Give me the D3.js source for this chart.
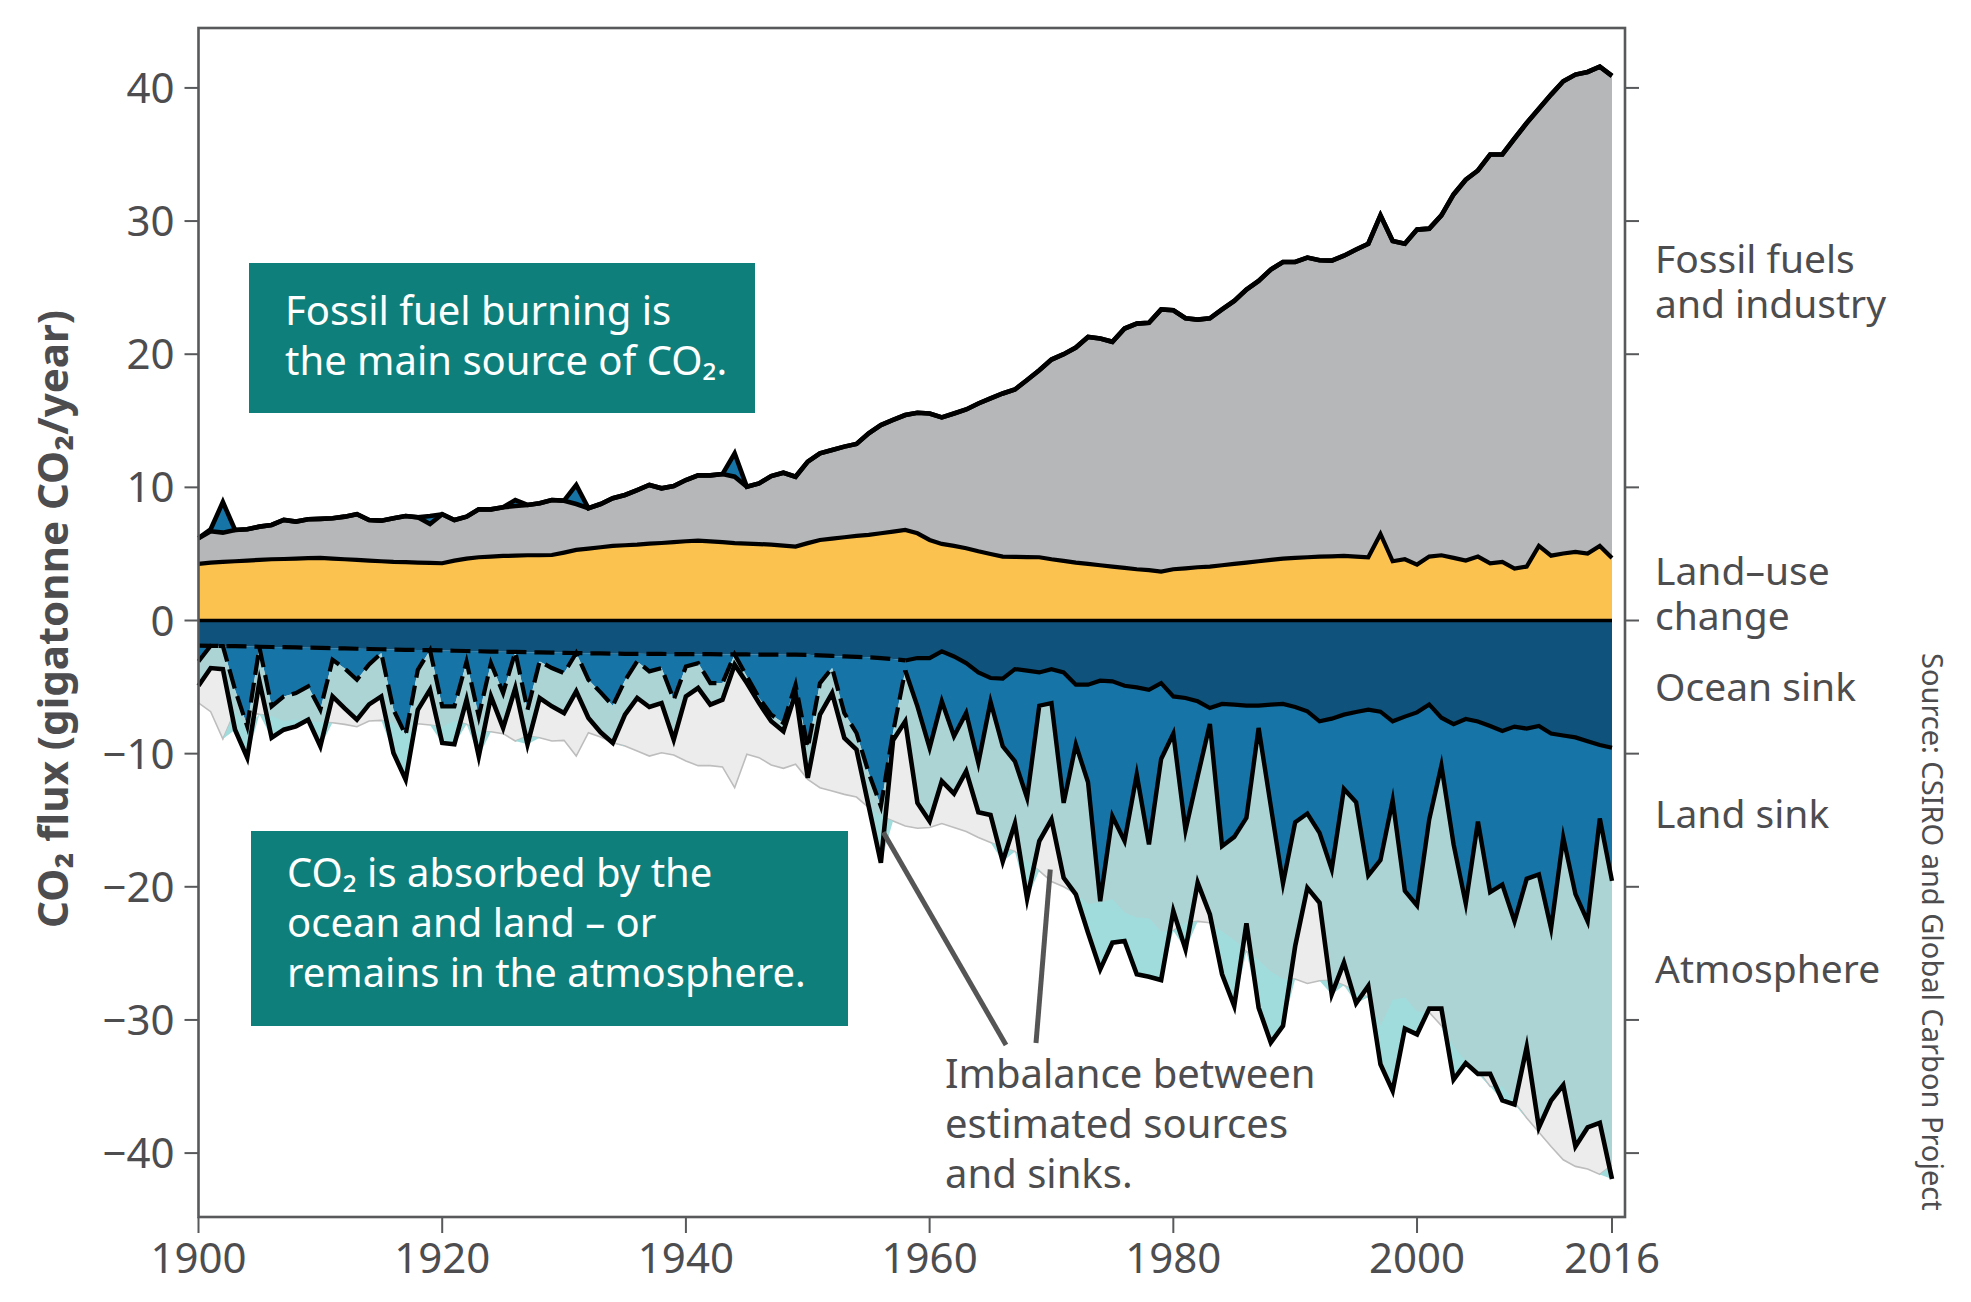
<!DOCTYPE html>
<html>
<head>
<meta charset="utf-8">
<script src="https://cdn.jsdelivr.net/npm/d3@7"></script>
<style>
  html, body { margin: 0; padding: 0; background: #fff; }
  text { font-family: "Noto Sans", "Open Sans", sans-serif; }
</style>
</head>
<body>
<svg id="chart" width="1971" height="1302"></svg>
<script>
// Global carbon budget 1900-2016, GtCO2 per year
const years = d3.range(1900, 2017);

const landUse = [
  4.25, 4.35, 4.4, 4.45, 4.5, 4.55, 4.6, 4.62, 4.65, 4.68,
  4.7, 4.65, 4.6, 4.55, 4.5, 4.45, 4.4, 4.38, 4.35, 4.33,
  4.3, 4.5, 4.65, 4.75, 4.8, 4.85, 4.87, 4.9, 4.9, 4.92,
  5.1, 5.3, 5.4, 5.5, 5.6, 5.65, 5.7, 5.78, 5.82, 5.88,
  5.95, 6.0, 5.95, 5.88, 5.81, 5.78, 5.74, 5.7, 5.62, 5.55,
  5.81, 6.05, 6.15, 6.25, 6.35, 6.43, 6.55, 6.68, 6.8, 6.55,
  6.05, 5.75, 5.6, 5.43, 5.2, 5.0, 4.8, 4.78, 4.76, 4.75,
  4.6, 4.48, 4.35, 4.25, 4.15, 4.05, 3.95, 3.85, 3.78, 3.68,
  3.85, 3.92, 4.0, 4.05, 4.15, 4.25, 4.35, 4.45, 4.55, 4.65,
  4.7, 4.75, 4.8, 4.82, 4.85, 4.8, 4.75, 6.5, 4.45, 4.6,
  4.2, 4.8, 4.9, 4.7, 4.5, 4.8, 4.3, 4.4, 3.9, 4.05,
  5.6, 4.87, 5.03, 5.15, 5.03, 5.6, 4.7
];

const fossil = [
  1.93, 2.35, 2.2, 2.35, 2.35, 2.5, 2.58, 2.93, 2.78, 2.92,
  2.93, 3.03, 3.2, 3.43, 3.05, 3.05, 3.28, 3.47, 3.4, 2.92,
  3.68, 3.05, 3.15, 3.6, 3.55, 3.65, 3.73, 3.78, 3.9, 4.13,
  3.9, 3.45, 3.03, 3.25, 3.58, 3.78, 4.1, 4.4, 4.11, 4.22,
  4.6, 4.9, 4.95, 5.12, 4.99, 4.27, 4.56, 5.15, 5.48, 5.25,
  6.12, 6.51, 6.66, 6.81, 6.91, 7.63, 8.13, 8.38, 8.63, 9.05,
  9.5, 9.5, 9.95, 10.42, 11.1, 11.68, 12.25, 12.57, 13.3, 14.05,
  15.0, 15.52, 16.15, 17.05, 17.03, 16.88, 17.98, 18.45, 18.58, 19.68,
  19.45, 18.78, 18.6, 18.65, 19.21, 19.75, 20.51, 21.05, 21.81, 22.28,
  22.23, 22.51, 22.26, 22.21, 22.55, 23.06, 23.55, 23.93, 24.05, 23.7,
  25.16, 24.63, 25.53, 27.3, 28.6, 29.0, 30.7, 30.6, 32.3, 33.31,
  32.83, 34.63, 35.47, 35.85, 36.17, 36.0, 36.2
];

// negative = sink, positive = the land acted as a source that year
const landSink = [
  -1.19, 0.15, 2.3, -3.27, -6.0, -0.05, -4.46, -3.7, -3.43, -2.91,
  -4.64, -0.87, -1.5, -2.33, -1.16, -0.29, -4.52, -6.4, -1.49, 0.6,
  -4.2, -4.18, -0.81, -4.89, -0.87, -3.1, 0.45, -4.32, -0.67, -1.16,
  -1.52, 1.43, -1.99, -2.93, -3.91, -2.0, -0.57, -1.31, -1.06, -3.43,
  -0.93, -0.67, -2.17, -2.16, 1.76, -1.65, -3.26, -4.51, -5.13, -2.25,
  -6.99, -2.08, -0.91, -4.25, -5.72, -8.69, -11.13, -5.5, -0.75, -3.63,
  -6.75, -3.75, -6.0, -3.75, -6.8, -1.78, -5.08, -6.92, -9.56, -2.5,
  -2.55, -9.8, -4.5, -7.33, -16.56, -10.13, -11.67, -6.55, -11.62, -5.7,
  -2.8, -9.93, -5.63, -1.2, -10.68, -9.93, -8.42, -1.67, -7.63, -13.48,
  -8.65, -7.68, -8.38, -11.33, -5.58, -6.78, -12.45, -11.15, -5.95, -13.08,
  -14.5, -8.65, -3.6, -9.04, -13.87, -7.52, -12.48, -11.54, -14.63, -11.28,
  -11.15, -14.64, -7.66, -11.77, -13.53, -5.52, -9.99
];

const oceanSink = [
  -1.88, -1.9, -1.92, -1.93, -1.95, -1.97, -1.99, -2.0, -2.02, -2.04,
  -2.06, -2.08, -2.1, -2.12, -2.14, -2.16, -2.18, -2.2, -2.21, -2.23,
  -2.25, -2.27, -2.29, -2.31, -2.33, -2.35, -2.36, -2.38, -2.4, -2.41,
  -2.43, -2.44, -2.46, -2.47, -2.49, -2.5, -2.5, -2.51, -2.51, -2.52,
  -2.52, -2.53, -2.53, -2.54, -2.55, -2.55, -2.56, -2.56, -2.57, -2.57,
  -2.58, -2.62, -2.66, -2.7, -2.73, -2.76, -2.82, -2.9, -3.0, -2.82,
  -2.82, -2.32, -2.7, -3.2, -3.9, -4.32, -4.37, -3.65, -3.77, -3.9,
  -3.65, -3.9, -4.82, -4.82, -4.52, -4.57, -4.9, -5.02, -5.2, -4.7,
  -5.7, -5.82, -6.07, -6.57, -6.27, -6.32, -6.4, -6.4, -6.32, -6.27,
  -6.5, -6.82, -7.57, -7.37, -7.07, -6.87, -6.7, -6.85, -7.57, -7.22,
  -6.9, -6.3, -7.3, -7.78, -7.4, -7.58, -7.92, -8.3, -7.97, -8.12,
  -7.92, -8.49, -8.64, -8.78, -9.07, -9.35, -9.56
];

// growth of CO2 remaining in the atmosphere
const atmosphere = [
  1.83, 1.67, 1.73, 3.0, 2.35, 2.55, 2.35, 2.5, 2.5, 2.5,
  2.75, 2.75, 3.0, 3.0, 3.0, 3.25, 3.25, 3.35, 3.0, 2.97,
  2.75, 2.85, 2.85, 3.0, 2.5, 2.62, 2.71, 2.6, 2.75, 2.88,
  3.0, 2.88, 2.87, 3.0, 2.8, 2.57, 2.75, 2.68, 2.63, 3.0,
  2.25, 1.87, 1.62, 1.25, 0.77, 0.5, 0.38, 0.5, 0.62, 0.63,
  2.25, 2.37, 1.88, 1.87, 1.25, 2.5, 4.25, 0.6, 3.82, 7.25,
  5.5, 6.0, 4.3, 4.37, 3.7, 8.5, 8.65, 4.68, 7.57, 10.17,
  8.75, 5.63, 11.25, 11.3, 5.12, 9.5, 7.5, 15.0, 9.93, 16.6,
  13.33, 8.95, 8.0, 14.31, 9.62, 12.7, 7.93, 21.01, 17.75, 10.7,
  9.3, 5.58, 5.25, 9.38, 13.05, 15.1, 8.3, 15.33, 21.81, 10.35,
  9.68, 14.2, 18.25, 17.66, 11.97, 18.95, 13.65, 16.21, 13.75, 12.64,
  19.0, 12.92, 18.6, 18.95, 15.47, 22.85, 22.39
];

const yTicks = [-40, -30, -20, -10, 0, 10, 20, 30, 40];
const xTicks = [1900, 1920, 1940, 1960, 1980, 2000, 2016];
const dashedUntil = 1958;

const seriesLabels = [
  {lines: ["Fossil fuels", "and industry"], y: 273},
  {lines: ["Land\u2013use", "change"], y: 585},
  {lines: ["Ocean sink"], y: 701},
  {lines: ["Land sink"], y: 828},
  {lines: ["Atmosphere"], y: 983}
];

const colors = {
  fossil: "#b6b7b9", landUse: "#fcc24f", ocean: "#0f527b", land: "#1774a6",
  atmos: "#acd4d5", excess: "#a0dcdc", imbalance: "#ebeceb", axis: "#58595b",
  text: "#4d4d4f", box: "#0e7f7b"
};

let svg = d3.select("#chart");
let x = d3.scaleLinear().domain([1900, 2016]).range([198.5, 1612]);
let y = d3.scaleLinear().domain([-44.8, 44.5]).range([1217, 28]);
let frame = {left: 198.5, right: 1625, top: 28, bottom: 1217};

let rows = years.map((yr, i) => {
  let d = {yr: yr, luc: landUse[i], ff: fossil[i], land: landSink[i], ocean: oceanSink[i], atm: atmosphere[i]};
  d.grayTop = d.luc + d.ff;
  d.top = d.grayTop + Math.max(d.land, 0);
  d.landB = d.ocean + Math.min(d.land, 0);
  d.atmB = d.landB - d.atm;
  d.cyanTop = Math.min(-d.top, d.landB);
  d.cyanBot = Math.min(d.atmB, d.cyanTop);
  return d;
});

function band(lo, hi, fill) {
  svg.append("path")
    .datum(rows)
    .attr("fill", fill)
    .attr("d", d3.area().x(d => x(d.yr)).y0(d => y(lo(d))).y1(d => y(hi(d))));
}

function outline(data, val, opts) {
  svg.append("path")
    .datum(data)
    .attr("fill", "none")
    .attr("stroke", opts.color || "#000")
    .attr("stroke-width", opts.width || 4.6)
    .attr("stroke-dasharray", opts.dash || null)
    .attr("stroke-linejoin", "miter")
    .attr("stroke-miterlimit", 6)
    .attr("d", d3.line().x(d => x(d.yr)).y(d => y(val(d))));
}

// sinks side
band(d => 0, d => -d.top, colors.imbalance);
outline(rows, d => -d.top, {color: "#bdbdbd", width: 1.6});
band(d => 0, d => d.ocean, colors.ocean);
band(d => d.ocean, d => d.landB, colors.land);
band(d => d.landB, d => d.atmB, colors.atmos);
band(d => d.cyanTop, d => d.cyanBot, colors.excess);

// sources side
band(d => 0, d => d.luc, colors.landUse);
band(d => d.luc, d => d.grayTop, colors.fossil);
band(d => d.grayTop, d => d.top, colors.land);

let early = rows.filter(d => d.yr <= dashedUntil);
let late = rows.filter(d => d.yr >= dashedUntil);

outline(rows, d => d.luc, {width: 4.2});
outline(rows, d => d.grayTop, {width: 4.6});
outline(rows, d => d.top, {width: 4.6});
outline(early, d => d.ocean, {width: 4.2, dash: "20,8"});
outline(late, d => d.ocean, {width: 4.2});
outline(early, d => d.landB, {width: 4.2, dash: "20,8"});
outline(late, d => d.landB, {width: 4.4});
outline(rows, d => d.atmB, {width: 4.6});
outline(rows, d => 0, {width: 3.6});

// frame and axes
svg.append("rect")
  .attr("x", frame.left).attr("y", frame.top)
  .attr("width", frame.right - frame.left).attr("height", frame.bottom - frame.top)
  .attr("fill", "none").attr("stroke", colors.axis).attr("stroke-width", 2.6);

let axisText = {size: 42};

let yAxis = svg.append("g");
yTicks.forEach(t => {
  yAxis.append("line")
    .attr("x1", frame.left - 14).attr("x2", frame.left)
    .attr("y1", y(t)).attr("y2", y(t))
    .attr("stroke", colors.axis).attr("stroke-width", 2);
  yAxis.append("line")
    .attr("x1", frame.right).attr("x2", frame.right + 14)
    .attr("y1", y(t)).attr("y2", y(t))
    .attr("stroke", colors.axis).attr("stroke-width", 2);
  yAxis.append("text")
    .attr("x", frame.left - 24).attr("y", y(t)).attr("dy", "0.36em")
    .attr("text-anchor", "end")
    .attr("font-size", axisText.size).attr("fill", colors.text)
    .text(d3.format("")(t));
});

let xAxis = svg.append("g");
xTicks.forEach(t => {
  xAxis.append("line")
    .attr("x1", x(t)).attr("x2", x(t))
    .attr("y1", frame.bottom).attr("y2", frame.bottom + 16)
    .attr("stroke", colors.axis).attr("stroke-width", 2);
  xAxis.append("text")
    .attr("x", x(t)).attr("y", 1273)
    .attr("text-anchor", "middle")
    .attr("font-size", axisText.size).attr("fill", colors.text)
    .text(t);
});

svg.append("text")
  .attr("transform", "translate(68,619) rotate(-90)")
  .attr("text-anchor", "middle")
  .attr("font-size", 42).attr("font-weight", "bold").attr("fill", colors.text)
  .text("CO\u2082 flux (gigatonne CO\u2082/year)");

// series names on the right
seriesLabels.forEach(s => {
  s.lines.forEach((line, i) => {
    svg.append("text")
      .attr("x", 1655).attr("y", s.y + i * 45)
      .attr("font-size", 39).attr("fill", colors.text)
      .text(line);
  });
});

svg.append("text")
  .attr("transform", "translate(1922,653) rotate(90)")
  .attr("font-size", 29).attr("fill", colors.text)
  .text("Source: CSIRO and Global Carbon Project");

// call-out boxes
function callout(bx, by, bw, bh, lines, firstBase) {
  svg.append("rect")
    .attr("x", bx).attr("y", by).attr("width", bw).attr("height", bh)
    .attr("fill", colors.box);
  lines.forEach((line, i) => {
    svg.append("text")
      .attr("x", bx + 36).attr("y", firstBase + i * 50)
      .attr("font-size", 40).attr("fill", "#fff")
      .text(line);
  });
}

callout(249, 263, 506, 150, ["Fossil fuel burning is", "the main source of CO\u2082."], 325);
callout(251, 831, 597, 195, ["CO\u2082 is absorbed by the", "ocean and land \u2013 or", "remains in the atmosphere."], 887);

// imbalance annotation
let pointers = [
  {from: [1006, 1045], to: [x(1956.2), y(-15.9)]},
  {from: [1036, 1043], to: [x(1969.9), y(-18.7)]}
];
pointers.forEach(p => {
  svg.append("line")
    .attr("x1", p.from[0]).attr("y1", p.from[1])
    .attr("x2", p.to[0]).attr("y2", p.to[1])
    .attr("stroke", "#555").attr("stroke-width", 5);
});

["Imbalance between", "estimated sources", "and sinks."].forEach((line, i) => {
  svg.append("text")
    .attr("x", 945).attr("y", 1088 + i * 50)
    .attr("font-size", 40).attr("fill", colors.text)
    .text(line);
});
</script>
</body>
</html>
